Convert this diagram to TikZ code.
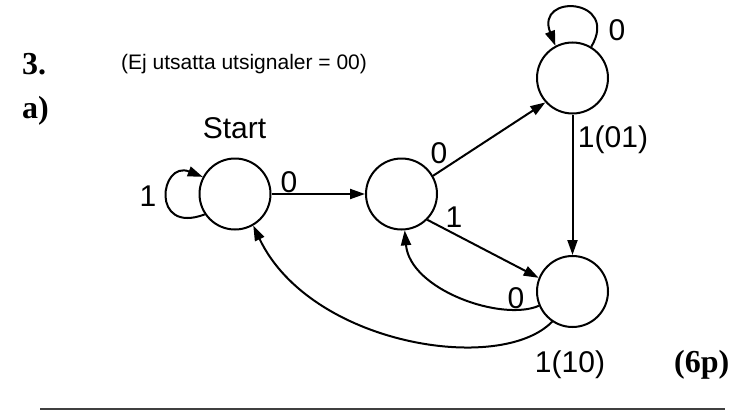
\documentclass[tikz,border=0pt]{standalone}
\usepackage{fontspec}
\setmainfont{Liberation Serif}
\setsansfont{Liberation Sans}
\usetikzlibrary{arrows.meta}
\begin{document}
\begin{tikzpicture}[x=1pt,y=-1pt,
  state/.style={circle,draw,line width=2pt,minimum size=71pt,inner sep=0pt},
  conn/.style={line width=2pt,-{Triangle[length=15pt,width=10pt]}},
  lbl/.style={inner sep=0pt,anchor=base,font=\sffamily\fontsize{30}{36}\selectfont},
  head/.style={inner sep=0pt,anchor=base west,font=\rmfamily\bfseries\fontsize{32}{38}\selectfont}]
\useasboundingbox (0,0) rectangle (747,415);
% states
\node[state] (s) at (235,194) {};
\node[state] (m) at (401.5,194) {};
\node[state] (t) at (572.5,78) {};
\node[state] (b) at (572.5,291.5) {};
% texts
\node[head] (n3) at (22,74) {3.};
\node[head] (na) at (22,118) {a)};
\node[head] (n6) at (674,372) {(6p)};
\node[inner sep=0pt,anchor=base west,font=\sffamily\fontsize{21}{25}\selectfont] (ej) at (121,69) {(Ej utsatta utsignaler = 00)};
\node[lbl] (lstart) at (234.5,138) {Start};
\node[lbl] (l1s) at (148,206) {1};
\node[lbl] (l0sm) at (289,192) {0};
\node[lbl] (l0mt) at (439,163) {0};
\node[lbl] (l1mb) at (454,227) {1};
\node[lbl] (l1tb) at (613,147) {1(01)};
\node[lbl] (l0bm) at (516,308) {0};
\node[lbl] (l1bs) at (570,372) {1(10)};
\node[lbl] (l0t) at (617,40) {0};
% connectors
\draw[conn] (s.214) .. controls (150,235) and (160,160) .. (s.152);
\draw[conn] (t.59) .. controls (620,-2) and (535,-7) .. (t.118);
\draw[conn] (s) -- (m);
\draw[conn] (m.30) -- (t.222);
\draw[conn] (m.-45) -- (b.158);
\draw[conn] (t) -- (b);
\draw[conn] (b.203) .. controls (502,322) and (410,290) .. (m.-85);
\draw[conn] (b.236) .. controls (500,375) and (310,345) .. (s.-60);
% rule
\coordinate (r1) at (40,409);
\coordinate (r2) at (725,409);
\draw[line width=1.5pt,black!75] (r1) -- (r2);
\end{tikzpicture}
\end{document}
